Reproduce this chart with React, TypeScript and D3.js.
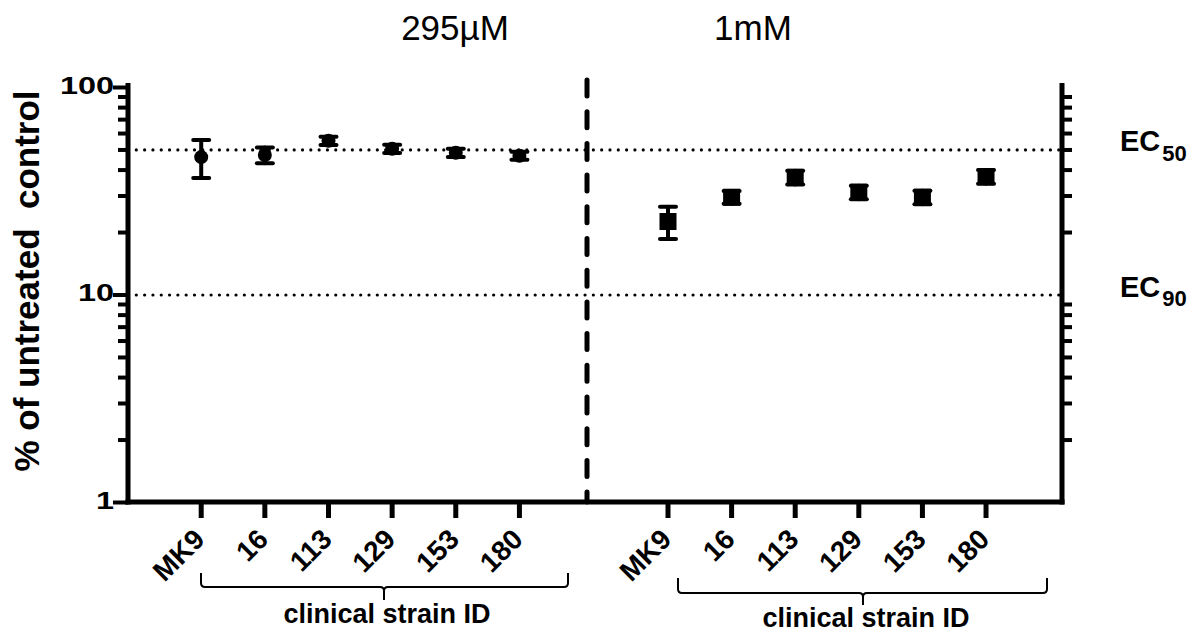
import React from 'react';
import * as d3 from 'd3';

// strains and values (mean and error, % of untreated control)
const strains = ['MK9', '16', '113', '129', '153', '180'];
const mean295 = [46.2, 47.3, 55.4, 50.7, 48.5, 46.9];
const err295 = [9.6, 4.1, 2.5, 2.3, 2.2, 2.1];
const mean1mM = [22.6, 29.6, 36.9, 31.3, 29.6, 37.2];
const err1mM = [4.0, 2.1, 2.8, 2.35, 2.2, 2.8];

const panelTitles = ['295µM', '1mM'];
const yTicks = [1, 10, 100];
const minorTicks = [2, 3, 4, 5, 6, 7, 8, 9, 20, 30, 40, 50, 60, 70, 80, 90];
const refLines = [
  { value: 50, label: 'EC', sub: '50' },
  { value: 10, label: 'EC', sub: '90' },
];

const W = 1200;
const H = 634;
const font = '"Liberation Sans", Arial, sans-serif';

export default function App() {
  const axL = 128;
  const axR = 1062;
  const divX = 587;
  const axY = 502;

  const y = d3.scaleLog().domain([1, 100]).range([502.5, 87.5]);
  const xLeft = d3.scalePoint().domain(strains).range([axL, divX]).padding(1.106).align(0.52);
  const xRight = d3.scalePoint().domain(strains).range([divX, axR]).padding(1.234).align(0.516);

  const errBar = (x: number, m: number, e: number, key: string) => {
    const y0 = y(m + e);
    const y1 = y(m - e);
    return (
      <g key={key} stroke="#000" strokeLinecap="round">
        <line x1={x} x2={x} y1={y0} y2={y1} strokeWidth={4} />
        <line x1={x - 8} x2={x + 8} y1={y0} y2={y0} strokeWidth={4} />
        <line x1={x - 8} x2={x + 8} y1={y1} y2={y1} strokeWidth={4} />
      </g>
    );
  };

  const bracket = (x0: number, x1: number, xm: number, top: number, h: number, bottom: number) => {
    const r = 4;
    return `M${x0},${top} V${h - r} Q${x0},${h} ${x0 + r},${h} H${xm - r} Q${xm},${h} ${xm},${h + r} V${bottom}` +
      ` M${xm},${h + r} Q${xm},${h} ${xm + r},${h} H${x1 - r} Q${x1},${h} ${x1},${h - r} V${top}`;
  };

  const xGroups = [
    { x: xLeft, labelY: 541, br: [201, 568, 384, 573, 587, 600], textX: 387, textY: 623 },
    { x: xRight, labelY: 541, br: [678, 1047, 863, 578, 593, 605], textX: 866, textY: 627 },
  ];

  return (
    <svg width={W} height={H} style={{ position: 'absolute', left: 0, top: 0, background: '#fff' }} fontFamily={font}>
      {/* panel titles */}
      <text x={455} y={40} fontSize={35} textAnchor="middle">{panelTitles[0]}</text>
      <text x={753} y={40} fontSize={35} textAnchor="middle">{panelTitles[1]}</text>

      {/* y axis title */}
      <text
        transform={`translate(39,${y(10) - 14}) rotate(-90)`}
        fontSize={35}
        fontWeight="bold"
        textAnchor="middle"
        style={{ whiteSpace: 'pre' }}
      >
        % of untreated  control
      </text>

      {/* reference lines */}
      {refLines.map((r) => (
        <g key={r.sub}>
          <line x1={axL} x2={axR} y1={y(r.value)} y2={y(r.value)} stroke="#000" strokeWidth={3.2}
            strokeDasharray="0.01 8.3" strokeLinecap="round" />
          <text x={1120} y={y(r.value) + 1.5} fontSize={29} fontWeight="bold">
            {r.label}
            <tspan fontSize={22} dx={2} dy={9.5}>{r.sub}</tspan>
          </text>
        </g>
      ))}

      {/* divider */}
      <line x1={divX} x2={divX} y1={80} y2={502} stroke="#000" strokeWidth={5}
        strokeDasharray="16 15.7" strokeLinecap="round" />

      {/* left axis */}
      <line x1={axL} x2={axL} y1={83} y2={axY + 2.5} stroke="#000" strokeWidth={5} />
      {yTicks.map((t) => (
        <g key={t}>
          <line x1={axL - 15} x2={axL} y1={y(t)} y2={y(t)} stroke="#000" strokeWidth={4} />
          <text transform={`translate(114,${y(t) + 6}) scale(1.35,1)`} fontSize={24} fontWeight="bold"
            textAnchor="end">{t}</text>
        </g>
      ))}
      {minorTicks.map((t) => (
        <line key={t} x1={axL - 10} x2={axL} y1={y(t)} y2={y(t)} stroke="#000" strokeWidth={4} />
      ))}

      {/* right axis */}
      <line x1={axR} x2={axR} y1={83} y2={axY + 2.5} stroke="#000" strokeWidth={5} />
      {minorTicks.map((t) => (
        <line key={t} x1={axR} x2={axR + 10} y1={y(t)} y2={y(t)} stroke="#000" strokeWidth={4} />
      ))}

      {/* bottom axis */}
      <line x1={axL - 2.5} x2={axR + 2.5} y1={axY} y2={axY} stroke="#000" strokeWidth={5} />

      {xGroups.map((g, gi) => (
        <g key={gi}>
          {strains.map((s) => {
            const xv = g.x(s) as number;
            return (
              <g key={s}>
                <line x1={xv} x2={xv} y1={axY} y2={518} stroke="#000" strokeWidth={5} />
                <text transform={`translate(${xv + 5},${g.labelY}) rotate(-45)`} fontSize={28}
                  fontWeight="bold" textAnchor="end">{s}</text>
              </g>
            );
          })}
          <path d={bracket(g.br[0], g.br[1], g.br[2], g.br[3], g.br[4], g.br[5])} fill="none" stroke="#000" strokeWidth={2} />
          <text x={g.textX} y={g.textY} fontSize={27} fontWeight="bold" textAnchor="middle">clinical strain ID</text>
        </g>
      ))}

      {/* 295µM: circles */}
      {strains.map((s, i) => {
        const xv = xLeft(s) as number;
        return (
          <g key={`a${s}`}>
            {errBar(xv, mean295[i], err295[i], `ea${s}`)}
            <circle cx={xv} cy={y(mean295[i])} r={7} fill="#000" />
          </g>
        );
      })}

      {/* 1mM: squares */}
      {strains.map((s, i) => {
        const xv = xRight(s) as number;
        return (
          <g key={`b${s}`}>
            {errBar(xv, mean1mM[i], err1mM[i], `eb${s}`)}
            <rect x={xv - 8.5} y={y(mean1mM[i]) - 8.5} width={17} height={17} fill="#000" />
          </g>
        );
      })}
    </svg>
  );
}
